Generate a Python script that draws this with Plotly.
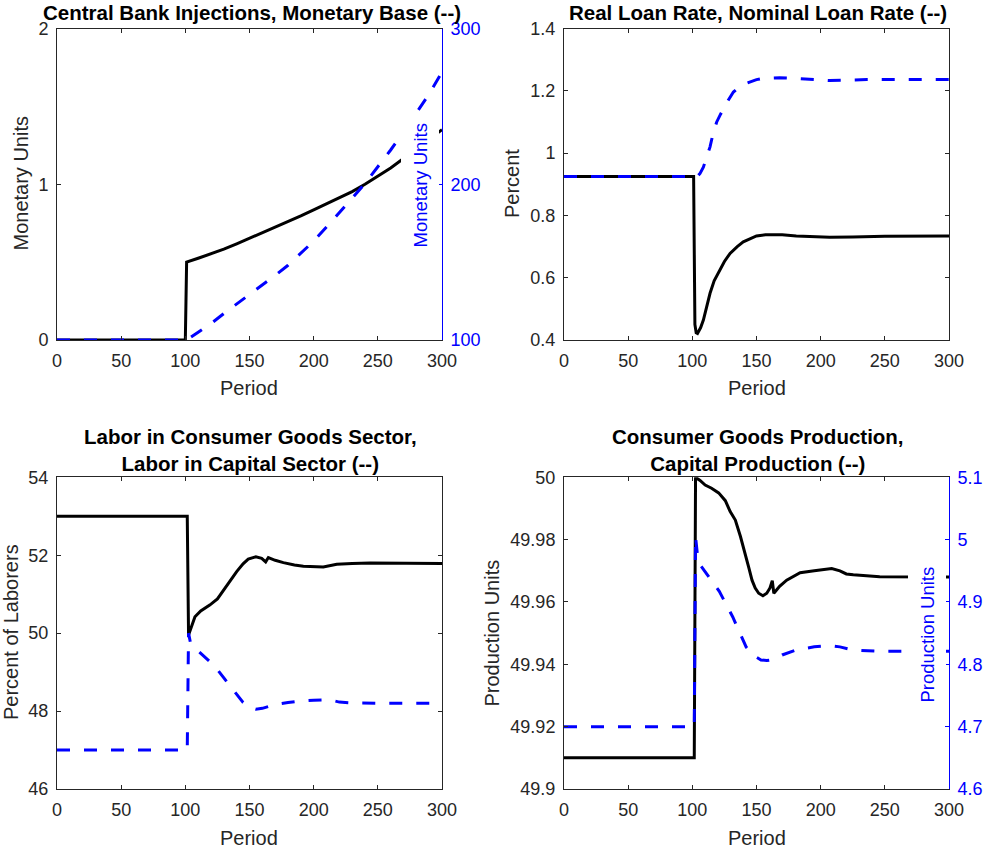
import plotly.graph_objects as go

# ---------------- data ----------------
# Panel 1: central bank injections (left axis) and monetary base (right axis)
inj_t = [0, 100, 100.5, 101, 110, 120, 130, 140, 150, 160, 170, 180, 190, 200,
         210, 220, 230, 240, 250, 260, 270, 280, 290, 300]
inj_v = [0, 0, 0.25, 0.50, 0.525, 0.553, 0.583, 0.617, 0.652, 0.688, 0.724, 0.760,
         0.797, 0.836, 0.876, 0.915, 0.953, 1.0, 1.05, 1.105, 1.165, 1.225, 1.285, 1.35]
base_t = [0, 101, 110, 120, 130, 140, 150, 160, 170, 180, 190, 200, 210, 220,
          230, 240, 250, 260, 270, 280, 290, 300]
base_v = [100, 100, 105, 110.5, 117, 123, 129, 135, 141.5, 148, 155.5, 163.5,
          172.5, 181.5, 191, 200.5, 211, 222, 233.5, 245.5, 258, 272]

# Panel 2: real and nominal loan rates
real_t = [0, 101, 102, 103, 104, 105, 106.5, 108.6, 111, 113.8, 117, 121.6, 125,
          129.4, 135, 139.7, 145, 150, 157, 163, 170, 181, 195, 207, 225, 250, 300]
real_v = [0.925, 0.925, 0.45, 0.423, 0.421, 0.427, 0.440, 0.464, 0.505, 0.55, 0.59,
          0.624, 0.652, 0.678, 0.700, 0.715, 0.726, 0.734, 0.738, 0.739, 0.738,
          0.734, 0.731, 0.730, 0.731, 0.733, 0.734]
nom_t = [0, 104, 106, 108.6, 111, 113.8, 116, 119, 122, 124.2, 128, 132, 137, 141,
         145, 150, 155, 168, 180, 194, 207, 220, 236, 300]
nom_v = [0.925, 0.925, 0.935, 0.955, 0.985, 1.02, 1.06, 1.10, 1.125, 1.142, 1.17,
         1.196, 1.214, 1.222, 1.228, 1.236, 1.240, 1.242, 1.240, 1.237, 1.233,
         1.234, 1.236, 1.236]

# Panel 3: labor shares by sector
lc_t = [0, 101.5, 102.5, 104, 107.5, 112, 119, 125, 129.6, 135, 140, 145, 149, 155,
        159.5, 162.6, 164.7, 170, 176.4, 185, 192, 207.5, 218, 230, 244, 300]
lc_v = [53, 53, 49.95, 50.1, 50.42, 50.57, 50.72, 50.88, 51.1, 51.35, 51.58, 51.78,
        51.9, 51.96, 51.92, 51.83, 51.94, 51.87, 51.81, 51.75, 51.72, 51.7, 51.77,
        51.79, 51.8, 51.79]
lk_t = [0, 101.5, 102.5, 104, 108, 115, 123, 130, 137, 145, 150, 155, 160, 165, 170,
        180, 190, 200, 210, 215, 220, 230, 250, 300]
lk_v = [47, 47, 50.0, 49.75, 49.6, 49.4, 49.15, 48.85, 48.55, 48.22, 48.1, 48.05,
        48.07, 48.12, 48.17, 48.22, 48.26, 48.28, 48.29, 48.27, 48.23, 48.21, 48.2, 48.2]

# Panel 4: consumer goods (left axis) and capital production (right axis)
cg_t = [0, 101.5, 102.5, 106, 110, 115, 120.5, 125.7, 129.5, 133.5, 137.5, 141.3,
        144, 146.5, 149, 151.7, 155, 158, 160.5, 162.3, 163.5, 165, 168, 173.5, 184,
        195, 208.6, 215, 220, 225.4, 246, 300]
cg_v = [49.91, 49.91, 50.0, 49.999, 49.9975, 49.9965, 49.995, 49.9925, 49.989,
        49.9863, 49.981, 49.9756, 49.971, 49.967, 49.9645, 49.9628, 49.962, 49.9628,
        49.9645, 49.9668, 49.9628, 49.9635, 49.965, 49.967, 49.9694, 49.970, 49.9707,
        49.970, 49.969, 49.9687, 49.9681, 49.968]
kp_t = [0, 101.5, 102.5, 104, 106, 112.7, 121, 131.5, 136, 141.9, 147, 153.5, 158,
        164, 170, 181, 195, 207, 215, 225, 245, 300]
kp_v = [4.7, 4.7, 5.005, 4.975, 4.96, 4.94, 4.917, 4.876, 4.855, 4.828, 4.815, 4.807,
        4.806, 4.808, 4.815, 4.823, 4.828, 4.83, 4.828, 4.823, 4.821, 4.821]

period_ticks = [0, 50, 100, 150, 200, 250, 300]

# ---------------- styling ----------------
W, H = 984, 851
FONT = "Liberation Sans, Arial, Helvetica, sans-serif"
GRAY = "#262626"
BLUE = "#0000FF"
TICK_SIZE = 18
LABEL_SIZE = 20
TITLE_SIZE = 20.5


def px(x, y):
    return x / W, 1 - y / H


def dom_x(x0, x1):
    return [x0 / W, x1 / W]


def dom_y(top, bottom):
    return [1 - bottom / H, 1 - top / H]


def xaxis(domain, anchor):
    return dict(domain=domain, anchor=anchor, range=[0, 300], tickvals=period_ticks,
                ticks="inside", ticklen=4, tickcolor=GRAY, showline=True,
                linecolor=GRAY, linewidth=1, mirror="ticks", showgrid=False,
                zeroline=False, automargin=False,
                tickfont=dict(size=TICK_SIZE, color=GRAY, family=FONT),
                ticklabelstandoff=4)


def yaxis(domain, anchor, rng, dtick, mirror="ticks", color=GRAY, side="left",
          overlaying=None):
    d = dict(domain=domain, anchor=anchor, range=rng, dtick=dtick, tick0=rng[0],
             ticks="inside", ticklen=4, tickcolor=color, showline=True,
             linecolor=color, linewidth=1, mirror=mirror, showgrid=False,
             zeroline=False, side=side, automargin=False,
             tickfont=dict(size=TICK_SIZE, color=color, family=FONT),
             ticklabelstandoff=4)
    if overlaying:
        d["overlaying"] = overlaying
    return d


XL, XR = (57, 442), (564, 949)
YT, YB = (28.5, 340), (477.3, 789)

fig = go.Figure()

solid = dict(color="black", width=3)
dashed = dict(color=BLUE, width=3, dash="13px,14px")

fig.add_trace(go.Scatter(x=inj_t, y=inj_v, mode="lines", line=solid,
                         xaxis="x", yaxis="y"))
fig.add_trace(go.Scatter(x=base_t, y=base_v, mode="lines", line=dashed,
                         xaxis="x", yaxis="y2"))
fig.add_trace(go.Scatter(x=real_t, y=real_v, mode="lines", line=solid,
                         xaxis="x2", yaxis="y3"))
fig.add_trace(go.Scatter(x=nom_t, y=nom_v, mode="lines", line=dashed,
                         xaxis="x2", yaxis="y3"))
fig.add_trace(go.Scatter(x=lc_t, y=lc_v, mode="lines", line=solid,
                         xaxis="x3", yaxis="y4"))
fig.add_trace(go.Scatter(x=lk_t, y=lk_v, mode="lines", line=dashed,
                         xaxis="x3", yaxis="y4"))
fig.add_trace(go.Scatter(x=cg_t, y=cg_v, mode="lines", line=solid,
                         xaxis="x4", yaxis="y5"))
fig.add_trace(go.Scatter(x=kp_t, y=kp_v, mode="lines", line=dashed,
                         xaxis="x4", yaxis="y6"))

layout = dict(
    width=W, height=H, margin=dict(l=0, r=0, t=0, b=0, autoexpand=False),
    paper_bgcolor="white", plot_bgcolor="white", showlegend=False,
    font=dict(family=FONT, color=GRAY),
    xaxis=xaxis(dom_x(*XL), "y"),
    yaxis=yaxis(dom_y(*YT), "x", [0, 2], 1, mirror=False),
    yaxis2=yaxis(dom_y(*YT), "x", [100, 300], 100, mirror=False, color=BLUE,
                 side="right", overlaying="y"),
    xaxis2=xaxis(dom_x(*XR), "y3"),
    yaxis3=yaxis(dom_y(*YT), "x2", [0.4, 1.4], 0.2),
    xaxis3=xaxis(dom_x(*XL), "y4"),
    yaxis4=yaxis(dom_y(*YB), "x3", [46, 54], 2),
    xaxis4=xaxis(dom_x(*XR), "y5"),
    yaxis5=yaxis(dom_y(*YB), "x4", [49.9, 50.0], 0.02, mirror=False),
    yaxis6=yaxis(dom_y(*YB), "x4", [4.6, 5.1], 0.1, mirror=False, color=BLUE,
                 side="right", overlaying="y5"),
)
layout["yaxis3"]["tickformat"] = ".1~f"
layout["yaxis5"]["tickformat"] = ".2~f"
layout["yaxis6"]["tickformat"] = ".1~f"

annotations = []


def label(text, x, y, size=LABEL_SIZE, color=GRAY, angle=0, bold=False, bg=None, pad=1):
    ax, ay = px(x, y)
    a = dict(text=f"<b>{text}</b>" if bold else text, x=ax, y=ay, xref="paper",
             yref="paper", xanchor="center", yanchor="middle", showarrow=False,
             textangle=angle, font=dict(size=size, color=color, family=FONT),
             borderpad=pad)
    if bg:
        a["bgcolor"] = bg
    annotations.append(a)


# panel titles
label("Central Bank Injections, Monetary Base (--)", 252, 12, size=TITLE_SIZE,
      color="black", bold=True, pad=0)
label("Real Loan Rate, Nominal Loan Rate (--)", 758, 12, size=TITLE_SIZE,
      color="black", bold=True, pad=0)
label("Labor in Consumer Goods Sector,<br>Labor in Capital Sector (--)", 250, 450,
      size=TITLE_SIZE, color="black", bold=True, pad=0)
label("Consumer Goods Production,<br>Capital Production (--)", 758, 450,
      size=TITLE_SIZE, color="black", bold=True, pad=0)

# x-axis titles
for cx, cy in [(249.5, 388), (757, 388), (249.5, 838), (757, 838)]:
    label("Period", cx, cy)

# y-axis titles
label("Monetary Units", 21, 183.5, angle=-90)
label("Percent", 512.5, 183.5, angle=-90)
label("Percent of Laborers", 11, 632, angle=-90)
label("Production Units", 491.5, 633, angle=-90)

# right-axis titles sit inside the plot area on an opaque background
label("Monetary Units", 420, 185.5, size=18.5, color=BLUE, angle=-90, bg="white", pad=8)
label("Production Units", 926.5, 635, size=18.5, color=BLUE, angle=-90, bg="white", pad=8)

layout["annotations"] = annotations
fig.update_layout(**layout)

fig.write_html("out.html")
